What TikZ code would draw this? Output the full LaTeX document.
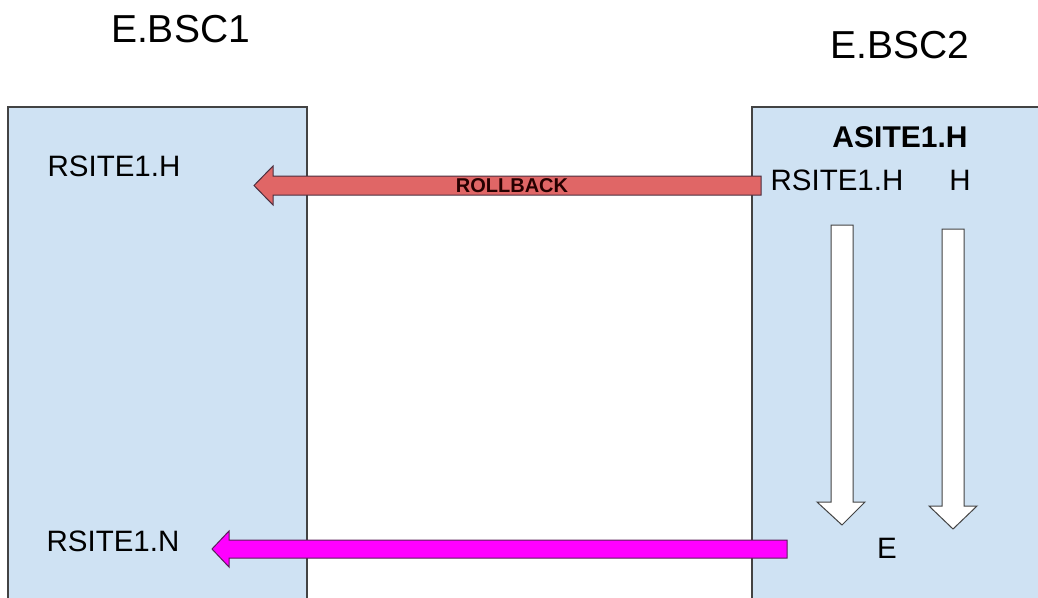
\documentclass[tikz,border=0pt]{standalone}
\usepackage{fontspec}
\setmainfont{Liberation Sans}
\definecolor{panelblue}{HTML}{CFE2F3}
\definecolor{panelline}{HTML}{434343}
\definecolor{rollred}{HTML}{E06666}
\definecolor{rollline}{HTML}{4A2F3F}
\definecolor{pinkarrow}{HTML}{FF00FF}
\definecolor{pinkline}{HTML}{5A1F5A}

\begin{document}
\begin{tikzpicture}[x=1pt, y=-1pt,
	panel/.style={fill=panelblue, draw=panelline, line width=1.2pt},
	title/.style={inner sep=0, font=\fontsize{39}{39}\selectfont},
	label/.style={inner sep=0, font=\fontsize{29.5}{30}\selectfont},
	boldlabel/.style={inner sep=0, font=\fontsize{30}{30}\selectfont\bfseries},
	rollarrow/.style={fill=rollred, draw=rollline, line width=1pt, line join=miter},
	pinkblock/.style={fill=pinkarrow, draw=pinkline, line width=1pt, line join=miter},
	downarrow/.style={fill=white, draw=panelline, line width=1pt, line join=miter}
	]
	\useasboundingbox (0,0) rectangle (1038,597);
	\begin{scope}
	\clip (0,0) rectangle (1038,597);
	
	% the two sites
	\draw [panel] (8,107) rectangle (307,610);
	\draw [panel] (752,107) rectangle (1050,610);
	
	\node (bsc1) at (180.5,29.5) [title] {E.BSC1};
	\node (bsc2) at (900,45) [title] {E.BSC2};
	
	% left site
	\node (rsiteh) at (114,166) [label] {RSITE1.H};
	\node (rsiten) at (113,541) [label] {RSITE1.N};
	
	% right site
	\node (asiteh) at (900,137.5) [boldlabel] {ASITE1.H};
	\node (rsitehb) at (837,180) [label] {RSITE1.H};
	\node (hstate) at (960,180) [label] {H};
	\node (estate) at (887,548) [label] {E};
	
	% rollback
	\draw [rollarrow] (761,176) -- (273,176) -- (273,166) -- (254,185.5)
		-- (273,205) -- (273,195) -- (761,195) -- cycle;
	\node (rollback) at (512,186) [inner sep=0, text=black!85!red,
		font=\fontsize{20}{20}\selectfont\bfseries] {ROLLBACK};
	
	% state changes
	\draw [downarrow] (831,225) -- (853,225) -- (853,502) -- (865,502)
		-- (842,525) -- (817,502) -- (831,502) -- cycle;
	\draw [downarrow] (942,229) -- (964,229) -- (964,506) -- (977,506)
		-- (953,529) -- (929,506) -- (942,506) -- cycle;
	
	\draw [pinkblock] (787,540) -- (229,540) -- (229,531) -- (212,549)
		-- (229,567) -- (229,558) -- (787,558) -- cycle;
	\end{scope}
\end{tikzpicture}
\end{document}
